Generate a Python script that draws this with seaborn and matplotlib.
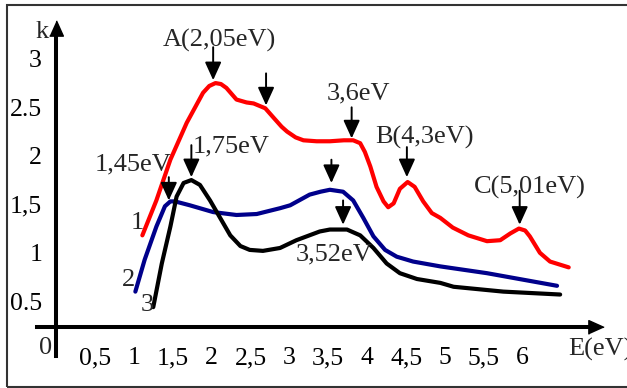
import seaborn as sns
import matplotlib.pyplot as plt
from matplotlib.patches import Rectangle
from matplotlib.transforms import ScaledTranslation

# curve 1 (red)
red_x = [1.11, 1.29, 1.47, 1.68, 1.89, 1.97, 2.05, 2.12, 2.19, 2.32, 2.45, 2.54, 2.69, 2.80,
         2.90, 2.97, 3.08, 3.18, 3.35, 3.52, 3.70, 3.82, 3.91, 3.97, 4.04, 4.12, 4.21, 4.27,
         4.34, 4.42, 4.52, 4.61, 4.72, 4.83, 4.94, 5.10, 5.30, 5.54, 5.71, 5.84, 5.95, 6.03,
         6.09, 6.22, 6.35, 6.59]
red_y = [1.12, 1.48, 1.90, 2.28, 2.59, 2.66, 2.69, 2.68, 2.64, 2.52, 2.49, 2.48, 2.43, 2.33,
         2.24, 2.19, 2.13, 2.10, 2.09, 2.09, 2.10, 2.10, 2.07, 1.98, 1.83, 1.62, 1.47, 1.41,
         1.45, 1.60, 1.67, 1.62, 1.47, 1.35, 1.30, 1.20, 1.12, 1.06, 1.07, 1.14, 1.19, 1.17,
         1.11, 0.94, 0.85, 0.79]

# curve 2 (blue)
blue_x = [1.02, 1.14, 1.29, 1.40, 1.47, 1.53, 1.72, 2.02, 2.32, 2.58, 2.88, 3.01, 3.26, 3.40,
          3.52, 3.69, 3.82, 3.95, 4.08, 4.23, 4.38, 4.59, 4.94, 5.54, 6.44]
blue_y = [0.54, 0.87, 1.21, 1.42, 1.47, 1.47, 1.43, 1.36, 1.33, 1.34, 1.40, 1.43, 1.54, 1.57,
          1.59, 1.57, 1.48, 1.30, 1.11, 0.97, 0.90, 0.85, 0.80, 0.73, 0.60]

# curve 3 (black)
black_x = [1.25, 1.36, 1.47, 1.55, 1.64, 1.74, 1.85, 1.98, 2.11, 2.24, 2.37, 2.49, 2.66, 2.88,
           3.09, 3.39, 3.52, 3.74, 3.91, 4.08, 4.25, 4.42, 4.64, 4.94, 5.11, 5.75, 6.48]
black_y = [0.38, 0.83, 1.21, 1.52, 1.66, 1.69, 1.64, 1.48, 1.30, 1.12, 1.01, 0.97, 0.96, 0.99,
           1.07, 1.16, 1.18, 1.18, 1.12, 0.99, 0.83, 0.73, 0.67, 0.63, 0.59, 0.54, 0.51]

x_ticks = [0.5, 1, 1.5, 2, 2.5, 3, 3.5, 4, 4.5, 5, 5.5, 6, 6.43]
x_labels = ['0,5', '1', '1,5', '2', '2,5', '3', '3,5', '4', '4,5', '5', '5,5', '6', '']
y_ticks = [0.5, 1, 1.5, 2, 2.5, 3]
y_labels = ['0.5', '1', '1,5', '2', '2.5', '3']

# arrows: x, tail y, tip y
arrow_x = [2.02, 2.70, 1.74, 1.45, 3.80, 4.51, 3.54, 3.69, 5.96]
arrow_from = [3.06, 2.79, 2.05, 1.72, 2.44, 2.03, 1.90, 1.48, 1.58]
arrow_to = [2.72, 2.46, 1.72, 1.48, 2.12, 1.72, 1.66, 1.23, 1.23]

# peak labels
peak_text = ['A(2,05eV)', '1,75eV', '1,45eV', '3,6eV', 'B(4,3eV)', 'C(5,01eV)', '3,52eV']
peak_tx = [2.10, 2.25, 0.99, 3.89, 4.73, 6.09, 3.57]
peak_ty = [3.13, 2.04, 1.85, 2.58, 2.13, 1.61, 0.92]

curve_names = ['1', '2', '3']
curve_tx = [1.05, 0.93, 1.17]
curve_ty = [1.25, 0.66, 0.40]

sns.set_style("white")
plt.rcParams['font.family'] = ['Liberation Serif', 'DejaVu Serif']

fig = plt.figure(figsize=(6.27, 3.88), dpi=100)
ax = fig.add_axes([0, 0, 1, 1])
ax.patch.set_alpha(0)

sns.lineplot(x=red_x, y=red_y, color='#ff0000', lw=3.0, ax=ax)
sns.lineplot(x=blue_x, y=blue_y, color='#00008b', lw=3.0, ax=ax)
sns.lineplot(x=black_x, y=black_y, color='black', lw=3.0, ax=ax)

ax.set_xlim(-56 / 77.8, (627 - 56) / 77.8)
ax.set_ylim(1 + (247 - 388) / 97, 1 + 247 / 97)

# axes through the origin
for side in ['top', 'right']:
    ax.spines[side].set_visible(False)
ax.spines['left'].set_position(('data', 0))
ax.spines['bottom'].set_position(('data', 0.175))
ax.spines['left'].set_bounds(-0.124, 3.2)
ax.spines['bottom'].set_bounds(-0.244, 6.86)
for side in ['left', 'bottom']:
    ax.spines[side].set_linewidth(2.9)
    ax.spines[side].set_color('black')

ax.set_xticks(x_ticks, x_labels)
ax.set_yticks(y_ticks, y_labels)
ax.tick_params(axis='x', direction='out', length=11.5, width=2.4, pad=3,
               labelsize=18.5, colors='black')
ax.tick_params(axis='y', direction='out', length=10, width=2.4, pad=0,
               labelsize=18.5, colors='black')
for lab in ax.get_yticklabels():
    lab.set_transform(lab.get_transform() + ScaledTranslation(0, -4 / 72, fig.dpi_scale_trans))

# axis arrow heads
ax.plot([0], [3.26], marker=[(-0.45, -0.5), (0.45, -0.5), (0, 0.5)], ms=11,
        color='black', clip_on=False)
ax.plot([6.94], [0.175], marker=[(-0.5, -0.45), (-0.5, 0.45), (0.5, 0)], ms=11,
        color='black', clip_on=False)

ax.text(-0.18, 3.22, 'k', fontsize=19, ha='center', va='center')
ax.text(-0.14, -0.04, '0', fontsize=19, ha='center', va='center')
ax.text(6.58, -0.06, 'E(eV)', fontsize=19, ha='left', va='center')

for x, y0, y1 in zip(arrow_x, arrow_from, arrow_to):
    ax.annotate('', xy=(x, y1), xytext=(x, y0),
                arrowprops=dict(arrowstyle='-|>,head_length=0.55,head_width=0.25',
                                lw=1.4, color='black', shrinkA=0, shrinkB=0,
                                mutation_scale=20))

for t, x, y in zip(peak_text, peak_tx, peak_ty):
    ax.text(x, y, t, fontsize=19, ha='center', va='center')
for t, x, y in zip(curve_names, curve_tx, curve_ty):
    ax.text(x, y, t, fontsize=19, ha='center', va='center')

# picture frame
fig.patches.append(Rectangle((6.5 / 627, 1.5 / 388), 1.0, 381.5 / 388,
                             transform=fig.transFigure, fill=False,
                             edgecolor='#333333', lw=1.5))

fig.savefig('out.png', dpi=100)
